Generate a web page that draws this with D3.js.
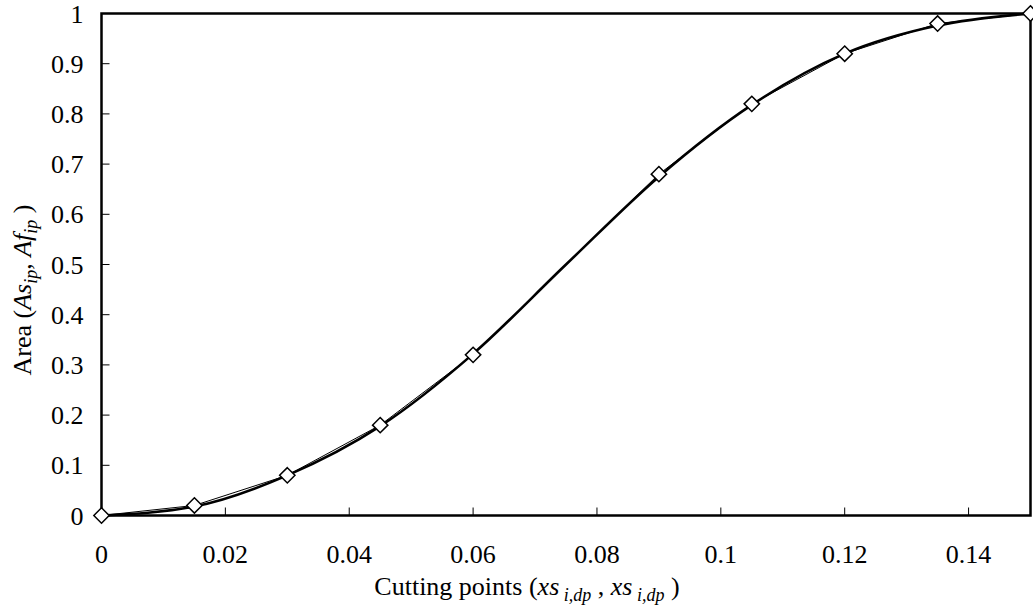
<!DOCTYPE html>
<html>
<head>
<meta charset="utf-8">
<script src="https://cdn.jsdelivr.net/npm/d3@7"></script>
<style>
  body { margin: 0; background: #fff; }
  text { font-family: 'Liberation Serif', 'Times New Roman', serif; fill: #000; }
</style>
</head>
<body>
<div id="app"></div>
<script>
'use strict'

// cutting points and measured areas (markers + thin line)
const cutPoints = [0, 0.015, 0.03, 0.045, 0.06, 0.09, 0.105, 0.12, 0.135, 0.15]
const areas     = [0, 0.02, 0.08, 0.18, 0.32, 0.68, 0.82, 0.92, 0.98, 1]

// smooth fitted curve (thick line)
const fitX = [0, 0.015, 0.03, 0.045, 0.06, 0.075, 0.09, 0.105, 0.12, 0.135, 0.15]
const fitY = [0, 0.018, 0.08, 0.178, 0.322, 0.5, 0.675, 0.818, 0.92, 0.976, 1]

const xTicks = [0, 0.02, 0.04, 0.06, 0.08, 0.1, 0.12, 0.14]
const yTicks = [0, 0.1, 0.2, 0.3, 0.4, 0.5, 0.6, 0.7, 0.8, 0.9, 1]

const W = 1033, H = 606
const margin = { top: 13.5, right: 2.5, bottom: 90.5, left: 101.5 }
const width = W - margin.left - margin.right
const height = H - margin.top - margin.bottom

const svg = d3.select('#app').append('svg')
  .attr('width', W)
  .attr('height', H)

const g = svg.append('g')
  .attr('transform', `translate(${margin.left}, ${margin.top})`)

const x = d3.scaleLinear().domain([0, 0.15]).range([0, width])
const y = d3.scaleLinear().domain([0, 1]).range([height, 0])

// inside ticks
g.selectAll('.xtick').data(xTicks).enter().append('line')
  .attr('x1', d => x(d)).attr('x2', d => x(d))
  .attr('y1', height).attr('y2', height - 8)
  .attr('stroke', '#000').attr('stroke-width', 1)

g.selectAll('.ytick').data(yTicks).enter().append('line')
  .attr('x1', 0).attr('x2', 8)
  .attr('y1', d => y(d)).attr('y2', d => y(d))
  .attr('stroke', '#000').attr('stroke-width', 1)

// tick labels
g.selectAll('.xlab').data(xTicks).enter().append('text')
  .attr('x', d => x(d))
  .attr('y', height + 47)
  .attr('text-anchor', 'middle')
  .style('font-size', '26px')
  .text(d => d)

g.selectAll('.ylab').data(yTicks).enter().append('text')
  .attr('x', -18)
  .attr('y', d => y(d) + 9)
  .attr('text-anchor', 'end')
  .style('font-size', '26px')
  .text(d => d)

// frame
g.append('rect')
  .attr('width', width).attr('height', height)
  .attr('fill', 'none').attr('stroke', '#000').attr('stroke-width', 2.5)

// thin polyline through measured points
const thin = d3.line().x((d, i) => x(cutPoints[i])).y(d => y(d))
g.append('path')
  .attr('d', thin(areas))
  .attr('fill', 'none').attr('stroke', '#000').attr('stroke-width', 1)

// thick smooth curve
const smooth = d3.line().x((d, i) => x(fitX[i])).y(d => y(d)).curve(d3.curveMonotoneX)
g.append('path')
  .attr('d', smooth(fitY))
  .attr('fill', 'none').attr('stroke', '#000').attr('stroke-width', 2.6)

// diamond markers
const diamond = d3.symbol().type(d3.symbolDiamond2).size(150)
g.selectAll('.pt').data(areas).enter().append('path')
  .attr('d', diamond)
  .attr('transform', (d, i) => `translate(${x(cutPoints[i])}, ${y(d)})`)
  .attr('fill', '#fff').attr('stroke', '#000').attr('stroke-width', 1.5)

// axis titles
const xt = svg.append('text')
  .attr('x', 527)
  .attr('y', 595)
  .attr('text-anchor', 'middle')
  .style('font-size', '26px')
xt.append('tspan').text('Cutting points (')
xt.append('tspan').style('font-style', 'italic').text('xs')
xt.append('tspan').style('font-style', 'italic').style('font-size', '18px').attr('dy', 6).text(' i,dp')
xt.append('tspan').attr('dy', -6).text(' , ')
xt.append('tspan').style('font-style', 'italic').text('xs')
xt.append('tspan').style('font-style', 'italic').style('font-size', '18px').attr('dy', 6).text(' i,dp')
xt.append('tspan').attr('dy', -6).text(' )')

const yt = svg.append('text')
  .attr('transform', `translate(31, 290) rotate(-90)`)
  .attr('text-anchor', 'middle')
  .style('font-size', '26px')
yt.append('tspan').text('Area (')
yt.append('tspan').style('font-style', 'italic').text('As')
yt.append('tspan').style('font-style', 'italic').style('font-size', '18px').attr('dy', 6).text('ip')
yt.append('tspan').attr('dy', -6).text(', ')
yt.append('tspan').style('font-style', 'italic').text('Af')
yt.append('tspan').style('font-style', 'italic').style('font-size', '18px').attr('dy', 6).text('ip')
yt.append('tspan').attr('dy', -6).text(' )')
</script>
</body>
</html>
